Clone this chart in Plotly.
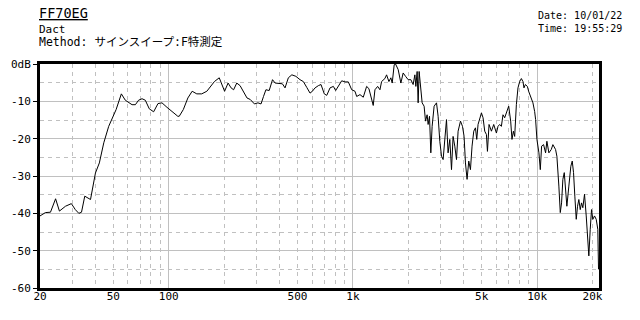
import plotly.graph_objects as go

# ---- data ----
freq_hz = [
    20, 21.4, 22.8, 24.3, 25.5, 27.5, 29.6, 31.1, 32.5, 33.6,
    35.0, 36.8, 37.6, 40.0, 42.0, 44.4, 47.2, 51.8, 55.3, 58.1,
    61.1, 63.2, 65.9, 68.6, 71.6, 74.6, 78.4, 82.8, 87.4, 91.9,
    97.8, 104, 112, 114, 120, 127, 134, 142, 151, 161,
    168, 177, 188, 194, 201, 210, 218, 225, 234, 244,
    255, 266, 277, 292, 305, 317, 327, 337, 351, 366,
    378, 397, 414, 428, 446, 466, 490, 516, 538, 562,
    585, 602, 623, 649, 671, 699, 721, 751, 783, 806,
    833, 869, 906, 944, 985, 1026, 1048, 1092, 1138, 1187,
    1221, 1253, 1289, 1317, 1362, 1402, 1431, 1491, 1523, 1568,
    1607, 1634, 1675, 1704, 1761, 1821, 1874, 1931, 1995, 2063,
    2123, 2169, 2196, 2232, 2260, 2288, 2337, 2376, 2435, 2478,
    2528, 2560, 2605, 2648, 2692, 2759, 2843, 2901, 2963, 3027,
    3088, 3154, 3221, 3286, 3357, 3429, 3498, 3573, 3650, 3724,
    3837, 3934, 4013, 4083, 4166, 4255, 4346, 4434, 4529, 4626,
    4702, 4779, 4881, 4986, 5087, 5196, 5307, 5374, 5483, 5649,
    5813, 6012, 6133, 6264, 6398, 6527, 6667, 6810, 7009, 7186,
    7304, 7433, 7554, 7716, 7872, 8040, 8212, 8379, 8484, 8634,
    8852, 8995, 9222, 9491, 9694, 9815, 9977, 10227, 10407, 10577,
    10844, 11118, 11300, 11586, 11938, 12179, 12595, 12803, 13126, 13358,
    13576, 13798, 14042, 14270, 14505, 14870, 15245, 15514, 15767, 16027,
    16310, 16576, 16849, 17146, 17425, 17712, 18091, 18479, 18853, 19089,
    19426, 19743, 20068, 20497, 20937, 21360, 21550,
]
level_db = [
    -40.7, -39.8, -39.7, -36.1, -39.4, -38.1, -37.4, -39.0, -40.0, -39.7,
    -35.4, -36.1, -36.3, -29.2, -26.5, -21.1, -16.7, -12.2, -8.0, -9.7,
    -10.3, -10.9, -10.9, -9.7, -9.3, -9.7, -12.0, -12.8, -10.6, -10.4,
    -11.6, -12.7, -14.0, -14.0, -12.2, -9.1, -7.3, -8.0, -8.0, -7.3,
    -6.0, -4.7, -3.7, -5.5, -7.3, -5.1, -6.4, -6.9, -5.1, -5.8,
    -7.3, -9.1, -9.5, -10.7, -10.4, -10.7, -8.7, -6.9, -7.1, -4.2,
    -5.1, -5.3, -5.3, -6.4, -3.7, -2.9, -3.3, -4.2, -4.7, -6.3,
    -7.8, -7.3, -6.4, -5.8, -5.5, -8.0, -8.4, -6.4, -6.0, -7.1,
    -6.0, -4.5, -4.8, -4.8, -6.9, -7.3, -8.7, -8.2, -8.9, -6.0,
    -6.6, -9.1, -11.1, -6.9, -6.0, -6.9, -4.7, -3.9, -2.9, -4.7,
    -3.7, -5.1, -0.2, 0.0, -1.5, -5.1, -2.4, -3.3, -4.2, -4.2,
    -5.5, -2.9, -6.0, -2.0, -10.4, -2.0, -6.0, -10.4, -11.3, -15.3,
    -13.6, -16.2, -14.0, -23.8, -16.7, -11.3, -10.4, -14.0, -20.7, -24.7,
    -25.6, -21.1, -14.9, -23.8, -20.2, -28.3, -19.4, -22.0, -25.6, -18.0,
    -15.3, -16.7, -19.4, -26.5, -30.9, -26.0, -28.3, -22.0, -18.0, -17.1,
    -20.2, -16.2, -14.9, -13.1, -14.4, -18.0, -18.9, -23.4, -16.2, -18.0,
    -16.2, -18.5, -16.7, -16.2, -16.7, -13.6, -14.4, -13.1, -11.3, -15.3,
    -20.2, -18.0, -19.4, -10.9, -6.4, -4.7, -3.9, -4.7, -6.4, -5.5,
    -6.0, -7.3, -8.7, -10.4, -12.7, -14.9, -20.2, -23.8, -28.3, -22.0,
    -21.6, -23.8, -20.7, -23.8, -22.9, -21.6, -22.9, -24.7, -32.7, -39.8,
    -37.2, -30.9, -29.1, -32.7, -38.1, -32.7, -27.4, -26.0, -29.1, -35.4,
    -41.6, -38.1, -36.3, -39.0, -37.2, -38.5, -34.9, -40.7, -47.9, -51.4,
    -44.3, -39.0, -41.6, -40.7, -41.6, -44.3, -55.0,
]

x_label_vals = [20, 50, 100, 500, 1000, 5000, 10000, 20000]
x_label_text = ["20", "50", "100", "500", "1k", "5k", "10k", "20k"]
x_major_grid = [100, 1000, 10000]
x_minor_grid = [30, 40, 50, 60, 70, 80, 90,
                200, 300, 400, 500, 600, 700, 800, 900,
                2000, 3000, 4000, 5000, 6000, 7000, 8000, 9000, 20000]
y_tick_vals = [0, -10, -20, -30, -40, -50, -60]
y_tick_text = ["0dB", "-10", "-20", "-30", "-40", "-50", "-60"]
y_minor_grid = [-5, -15, -25, -35, -45, -55]

title_text = "FF70EG"
sub_text = "Dact"
method_text = "Method: サインスイープ:F特測定"
date_text = "Date: 10/01/22"
time_text = "Time: 19:55:29"

FONT = "DejaVu Sans Mono, Noto Sans CJK JP, monospace"
GRID = "#c0c0c0"
X_RANGE = [1.30103, 4.336]

fig = go.Figure()
fig.add_trace(go.Scatter(x=freq_hz, y=level_db, mode="lines",
                         line=dict(color="black", width=1.0),
                         hoverinfo="skip", showlegend=False))
# helper trace so the label axis is rendered
fig.add_trace(go.Scatter(x=[x_label_vals[0], x_label_vals[-1]], y=[-60, -60],
                         xaxis="x2", mode="markers", marker=dict(opacity=0),
                         hoverinfo="skip", showlegend=False))

fig.update_layout(
    width=640, height=320,
    margin=dict(l=40, r=41, t=64, b=32),
    paper_bgcolor="white", plot_bgcolor="white",
    font=dict(family=FONT, size=10, color="black"),
    xaxis=dict(type="log", range=X_RANGE, tickvals=x_major_grid,
               showticklabels=False, ticks="",
               showgrid=True, gridcolor=GRID, gridwidth=1,
               minor=dict(tickvals=x_minor_grid, showgrid=True, gridcolor=GRID,
                          griddash="4px,4px", gridwidth=1, ticks=""),
               showline=True, linecolor="black", linewidth=3, mirror=True,
               zeroline=False),
    xaxis2=dict(type="log", range=X_RANGE, overlaying="x", side="bottom",
                anchor="y", tickvals=x_label_vals, ticktext=x_label_text,
                showgrid=False, showline=False, ticks="", zeroline=False,
                tickfont=dict(family=FONT, size=11, color="black")),
    yaxis=dict(range=[-60, 0], tickvals=y_tick_vals, ticktext=y_tick_text,
               ticks="outside", ticklen=4, tickcolor="black", tickwidth=1,
               showgrid=True, gridcolor=GRID, gridwidth=1,
               minor=dict(tickvals=y_minor_grid, showgrid=True, gridcolor=GRID,
                          griddash="4px,4px", gridwidth=1, ticks=""),
               showline=True, linecolor="black", linewidth=3, mirror=True,
               zeroline=False,
               tickfont=dict(family=FONT, size=11, color="black")),
)

ann = [
    dict(text='<span style="text-decoration:underline">' + title_text + "</span>",
         x=0, y=1.228, font=dict(size=13.5), xanchor="left", xshift=-2),
    dict(text=sub_text, x=0, y=1.152, font=dict(size=11), xanchor="left", xshift=-2),
    dict(text=method_text, x=0, y=1.096, font=dict(size=11.5), xanchor="left", xshift=-2),
    dict(text=date_text + "<br>" + time_text, x=1.043, y=1.189,
         font=dict(size=10), xanchor="right", align="right"),
]
for a in ann:
    fig.add_annotation(xref="paper", yref="paper", showarrow=False,
                       yanchor="middle", borderpad=0, **a)

fig.write_html("out.html")
